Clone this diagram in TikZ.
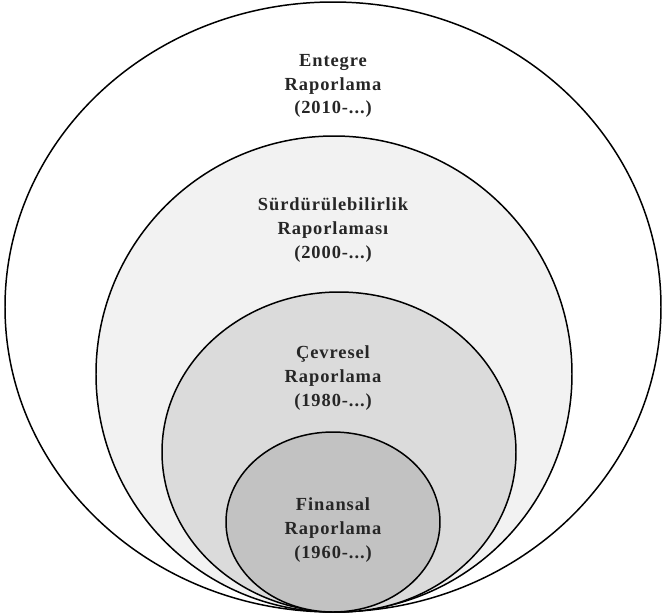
\documentclass[tikz,border=0pt]{standalone}
\usepackage{fontspec}
\setmainfont{Liberation Serif}[LetterSpace=5]

\tikzset{
  ring/.style={draw=black, line width=.85pt},
  lbl/.style={align=center, font=\bfseries\fontsize{10.5}{13.6}\selectfont, text=black!85}
}

\begin{document}
\begin{tikzpicture}[x=0.02cm,y=-0.02cm]
\useasboundingbox (0,0) rectangle (664,616);
% nested ellipses, all touching at the bottom
\draw[ring, fill=white]   (333,307) ellipse [x radius=328, y radius=305];
\draw[ring, fill=black!5] (334,374) ellipse [x radius=238, y radius=238];
\draw[ring, fill=black!14] (339,452) ellipse [x radius=177, y radius=160];
\draw[ring, fill=black!24] (333,522) ellipse [x radius=107, y radius=90];
% labels
\node (ent) [lbl] at (333,86)  {Entegre\\Raporlama\\(2010-...)};
\node (sur) [lbl] at (333,230) {Sürdürülebilirlik\\Raporlaması\\(2000-...)};
\node (cev) [lbl] at (333,378) {Çevresel\\Raporlama\\(1980-...)};
\node (fin) [lbl] at (333,530) {Finansal\\Raporlama\\(1960-...)};
\end{tikzpicture}
\end{document}
